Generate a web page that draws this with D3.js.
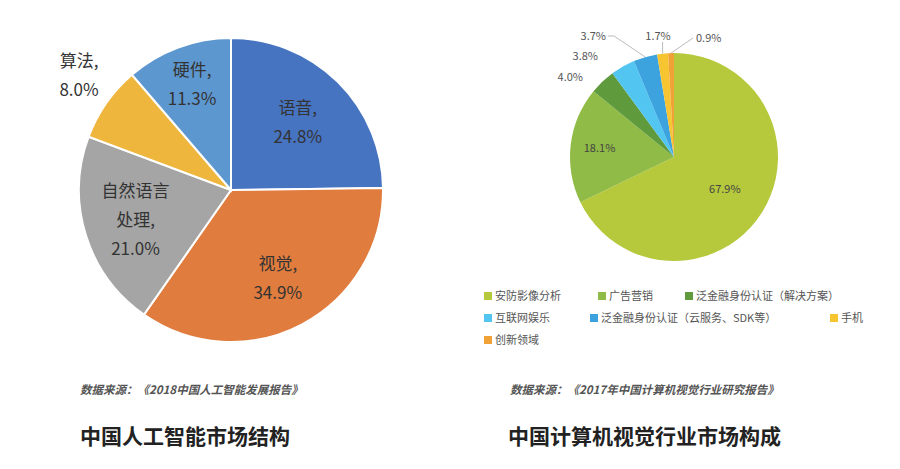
<!DOCTYPE html>
<html><head><meta charset="utf-8">
<script src="https://cdn.jsdelivr.net/npm/d3@7"></script>
<style>body{margin:0;background:#fff}text{font-family:"Noto Sans CJK SC","Noto Sans",sans-serif}</style>
</head><body><svg id="c" width="900" height="469"></svg>
<script>
const aiCats = ["语音","视觉","自然语言处理","算法","硬件"];
const aiVals = [24.8,34.9,21.0,8.0,11.3];
const aiColors = ["#4674c1","#e07c3e","#a5a5a5","#efb63e","#5d97cf"];
const aiLabelLines = [["语音,","24.8%"],["视觉,","34.9%"],["自然语言","处理,","21.0%"],["算法,","8.0%"],["硬件,","11.3%"]];
const cvCats = ["安防影像分析","广告营销","泛金融身份认证（解决方案）","互联网娱乐","泛金融身份认证（云服务、SDK等）","手机","创新领域"];
const cvVals = [67.9,18.1,4.0,3.8,3.7,1.7,0.9];
const cvColors = ["#b6c93c","#8fbb46","#5f9a3c","#52c5f0","#3ca3df","#f6c531","#f0a237"];

const svg = d3.select("#c");
const pie = d3.pie().sort(null).value(d=>d);

// left pie
const g1 = svg.append("g").attr("transform","translate(231,190)");
const arc1 = d3.arc().innerRadius(0).outerRadius(152);
const a1 = pie(aiVals);
g1.selectAll("path").data(a1).join("path").attr("d",arc1)
  .attr("fill",(d,i)=>aiColors[i]).attr("stroke","#fff").attr("stroke-width",2);
const labR = [95,100,100,175,112];
a1.forEach((d,i)=>{
  const m=(d.startAngle+d.endAngle)/2, r=labR[i];
  let x=Math.sin(m)*r, y=-Math.cos(m)*r;
  if(i===3){x=-152;y=-115;}
  const lines=aiLabelLines[i];
  const t=g1.append("text").attr("text-anchor","middle").attr("font-size",17).attr("fill","#333");
  lines.forEach((l,j)=>t.append("tspan").attr("x",x).attr("y",y+(j-(lines.length-1)/2)*29+6).text(l));
});

// right pie
const g2 = svg.append("g").attr("transform","translate(674,157)");
const R=104;
const arc2 = d3.arc().innerRadius(0).outerRadius(R);
const a2 = pie(cvVals);
g2.selectAll("path").data(a2).join("path").attr("d",arc2).attr("fill",(d,i)=>cvColors[i]);
const fmt=v=>v.toFixed(1)+"%";
[[0,60],[1,75]].forEach(([i,r])=>{
  const d=a2[i], m=(d.startAngle+d.endAngle)/2;
  g2.append("text").attr("x",Math.sin(m)*r).attr("y",-Math.cos(m)*r+4)
   .attr("text-anchor","middle").attr("font-size",11).attr("fill","#444").text(fmt(cvVals[i]));
});
const outPos={2:[-91,-80],3:[-76,-101],4:[-68,-121],5:[-16,-121],6:[22,-119]};
Object.entries(outPos).forEach(([k,[x,y]])=>{
  const i=+k, d=a2[i], m=(d.startAngle+d.endAngle)/2;
  const ex=Math.sin(m)*R, ey=-Math.cos(m)*R;
  const anchor = i===6?"start":(i===5?"middle":"end");
  let pts=null;
  if(i===4) pts=[[ex,ey],[x+8,y],[x+2,y]];
  if(i===5) pts=[[ex,ey],[ex,y+6]];
  if(i===6) pts=[[ex,ey],[x-3,y]];
  if(pts) g2.append("polyline").attr("points",pts.map(p=>p.join(",")).join(" "))
    .attr("fill","none").attr("stroke","#aaa").attr("stroke-width",0.8);
  g2.append("text").attr("x",x).attr("y",y+4).attr("text-anchor",anchor)
    .attr("font-size",11).attr("fill","#555").text(fmt(cvVals[i]));
});
const legPos=[[484,297],[598,297],[685,297],[484,319],[590,319],[830,319],[484,341]];
cvCats.forEach((c,i)=>{
  const [x,y]=legPos[i];
  svg.append("rect").attr("x",x).attr("y",y-5).attr("width",8).attr("height",8).attr("fill",cvColors[i]);
  svg.append("text").attr("x",x+11).attr("y",y+3).attr("font-size",11).attr("fill","#555").text(c);
});

svg.append("text").attr("x",80).attr("y",394).attr("font-size",11.5).attr("font-style","italic").attr("font-weight","bold").attr("fill","#555").text("数据来源：《2018中国人工智能发展报告》");
svg.append("text").attr("x",510).attr("y",394).attr("font-size",11.5).attr("font-style","italic").attr("font-weight","bold").attr("fill","#555").text("数据来源：《2017年中国计算机视觉行业研究报告》");
svg.append("text").attr("x",80).attr("y",444).attr("font-size",21).attr("font-weight","bold").attr("fill","#222").text("中国人工智能市场结构");
svg.append("text").attr("x",508).attr("y",444).attr("font-size",21).attr("font-weight","bold").attr("fill","#222").text("中国计算机视觉行业市场构成");
</script></body></html>
